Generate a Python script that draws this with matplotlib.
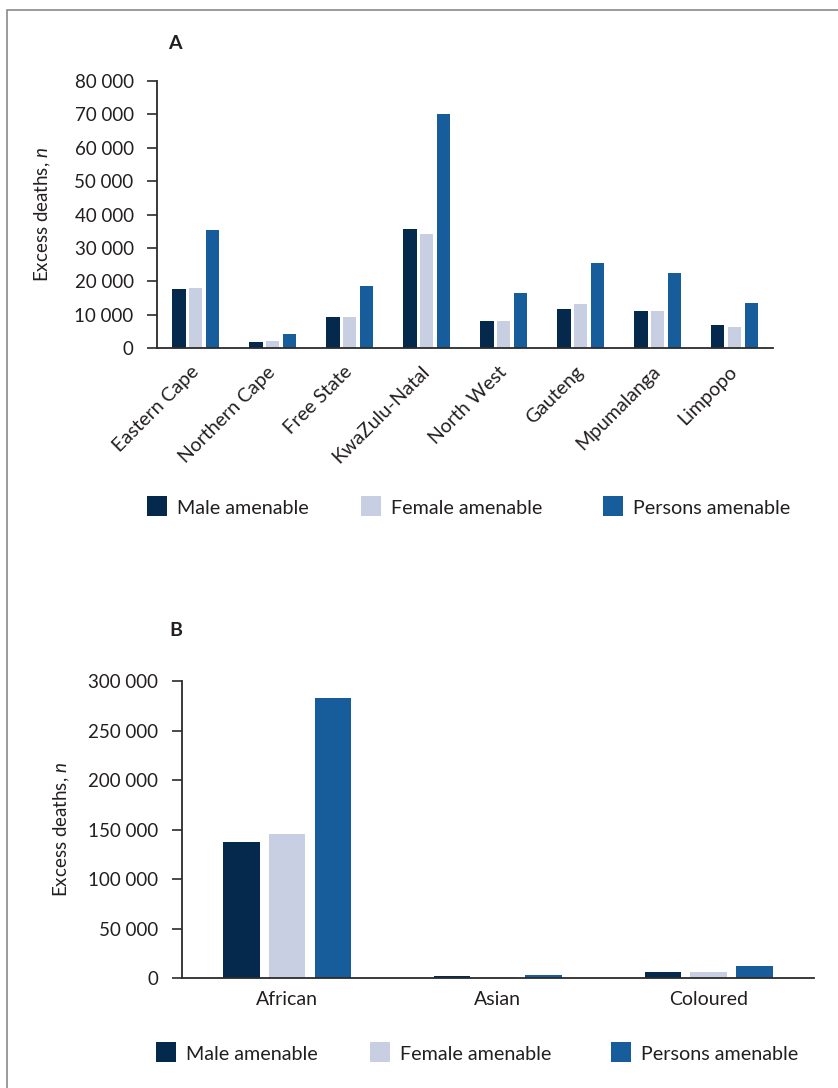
import numpy as np
import matplotlib
matplotlib.use("Agg")
import matplotlib.pyplot as plt
from matplotlib.patches import Rectangle
from matplotlib.ticker import FuncFormatter, MultipleLocator

plt.rcParams['font.family'] = ['Lato', 'DejaVu Sans']
plt.rcParams['mathtext.fontset'] = 'custom'
plt.rcParams['mathtext.rm'] = 'Lato'
plt.rcParams['mathtext.it'] = 'Lato:italic'

# provinces
provinces = ["Eastern Cape", "Northern Cape", "Free State", "KwaZulu-Natal",
             "North West", "Gauteng", "Mpumalanga", "Limpopo"]
prov_male = [17600, 1900, 9300, 35800, 8100, 11800, 11200, 7100]
prov_female = [18000, 2100, 9300, 34300, 8100, 13300, 11100, 6300]
prov_persons = [35500, 4300, 18600, 70200, 16600, 25500, 22400, 13600]

# population groups
groups = ["African", "Asian", "Coloured"]
grp_male = [137500, 2200, 5900]
grp_female = [145300, 1800, 6300]
grp_persons = [282500, 3400, 12100]

series = ["Male amenable", "Female amenable", "Persons amenable"]
colors = ["#05294d", "#c9cfe3", "#185d9b"]
ink = "#231f20"
spine_col = "#2b2b2b"

W, H = 838, 1088
fig = plt.figure(figsize=(W / 100, H / 100), dpi=100)

# page frame
fig.add_artist(Rectangle((7 / W, -0.1), 1.2, 1.1 - 10 / H, transform=fig.transFigure,
                         fill=False, edgecolor="#8a8a8a", linewidth=1.2))


def space_thousands(v, pos):
    return f"{int(round(v)):,}".replace(",", " ")


def draw_bars(ax, cats, values):
    x = np.arange(len(cats))
    step = 0.217
    width = 0.173
    for i, (vals, col) in enumerate(zip(values, colors)):
        ax.bar(x + (i - 1) * step, vals, width=width, color=col,
               edgecolor="none", label=series[i])
    ax.set_xlim(-0.5, len(cats) - 0.5)
    ax.set_xticks(x)
    for s in ["top", "right"]:
        ax.spines[s].set_visible(False)
    for s in ["left", "bottom"]:
        ax.spines[s].set_color(spine_col)
        ax.spines[s].set_linewidth(1.3)
    ax.yaxis.set_major_formatter(FuncFormatter(space_thousands))
    ax.tick_params(axis="y", length=7.5, width=1.2, color=spine_col, pad=9.5,
                   labelsize=13.5, labelcolor=ink)
    ax.tick_params(axis="x", length=0, labelsize=14, labelcolor=ink)
    ax.set_ylabel("Excess deaths, $n$", fontsize=13.5, color=ink)


def draw_key(x_px, y_px):
    # legend squares and labels, positioned in pixels from the top-left
    size = 19.5
    for (xs, lab, col) in zip(x_px, series, colors):
        fig.add_artist(Rectangle((xs / W, 1 - (y_px + size / 2) / H), size / W, size / H,
                                 transform=fig.transFigure, facecolor=col,
                                 edgecolor="none"))
        fig.text((xs + size + 10) / W, 1 - (y_px + size / 2 - 2) / H, lab,
                 fontsize=14.2, color=ink, ha="left", va="baseline")


# panel A
axA = fig.add_axes([157.3 / W, 1 - 348.3 / H, 615.7 / W, 267.3 / H])
draw_bars(axA, provinces, [prov_male, prov_female, prov_persons])
axA.set_ylim(0, 80000)
axA.yaxis.set_major_locator(MultipleLocator(10000))
axA.set_xticklabels(provinces, rotation=45, ha="right", va="center",
                    rotation_mode="anchor")
axA.tick_params(axis="x", pad=15)
axA.yaxis.set_label_coords(-0.169, 0.5)
fig.text(175 / W, 1 - 43.5 / H, "A", fontsize=14, fontweight="bold", color=ink,
         ha="center", va="center")
draw_key([147.3, 361, 603], 506)

# panel B
axB = fig.add_axes([181.7 / W, 1 - 978.3 / H, 632.3 / W, 297.3 / H])
draw_bars(axB, groups, [grp_male, grp_female, grp_persons])
axB.set_ylim(0, 300000)
axB.yaxis.set_major_locator(MultipleLocator(50000))
axB.set_xticklabels(groups)
axB.tick_params(axis="x", pad=9)
axB.yaxis.set_label_coords(-0.1736, 0.5)
fig.text(175.5 / W, 1 - 630 / H, "B", fontsize=14, fontweight="bold", color=ink,
         ha="center", va="center")
draw_key([156, 370, 611], 1052)

fig.savefig("out.png", dpi=100)
